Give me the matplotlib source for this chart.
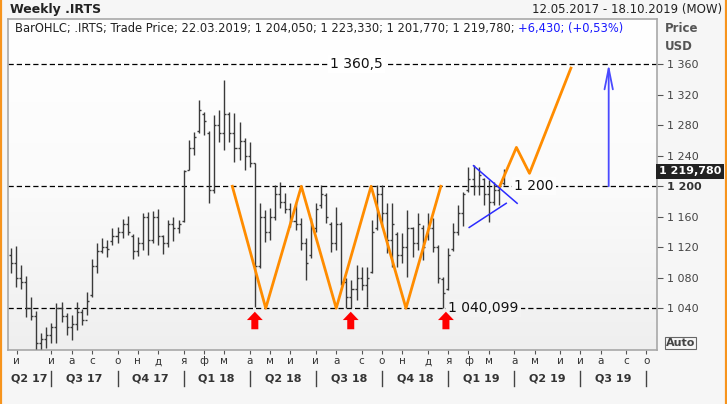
import numpy as np
import pandas as pd
import matplotlib
matplotlib.use("Agg")
import matplotlib.pyplot as plt
from matplotlib.lines import Line2D
from matplotlib.colors import LinearSegmentedColormap
from matplotlib.transforms import blended_transform_factory

START = pd.Timestamp("2017-05-12")   # first weekly bar
END = pd.Timestamp("2019-10-18")     # right edge of chart

bar_open = [1110, 1100, 1080, 1075, 1040, 1030, 995, 1000, 1005, 1015,
            1040, 1030, 1015, 1020, 1035, 1025, 1058, 1095, 1115, 1120,
            1128, 1135, 1140, 1150, 1135, 1115, 1125, 1160, 1130, 1160,
            1135, 1125, 1150, 1145, 1155, 1222, 1250, 1272, 1295, 1270,
            1195, 1280, 1270, 1295, 1270, 1250, 1260, 1240, 1230, 1095,
            1160, 1140, 1160, 1190, 1180, 1170, 1155, 1150, 1125, 1110,
            1145, 1175, 1188, 1150, 1125, 1150, 1075, 1055, 1065, 1080,
            1070, 1088, 1145, 1190, 1165, 1130, 1138, 1110, 1120, 1145,
            1125, 1145, 1135, 1145, 1120, 1078, 1065, 1118, 1140, 1165,
            1195, 1210, 1200, 1210, 1190, 1180, 1195, 1204.05]
bar_high = [1119, 1122, 1097, 1082, 1055, 1037, 1008, 1016, 1021, 1047,
            1048, 1034, 1031, 1048, 1039, 1061, 1105, 1126, 1132, 1130,
            1145, 1147, 1157, 1161, 1137, 1134, 1165, 1166, 1168, 1170,
            1136, 1156, 1160, 1156, 1222, 1261, 1271, 1313, 1298, 1273,
            1294, 1300, 1339, 1298, 1296, 1284, 1263, 1258, 1231, 1178,
            1169, 1172, 1202, 1205, 1191, 1178, 1178, 1158, 1132, 1158,
            1178, 1202, 1191, 1153, 1173, 1153, 1080, 1077, 1097, 1094,
            1094, 1156, 1202, 1202, 1178, 1178, 1140, 1139, 1169, 1147,
            1165, 1149, 1165, 1158, 1123, 1081, 1119, 1152, 1176, 1193,
            1225, 1228, 1225, 1211, 1208, 1205, 1202, 1223.33]
bar_low = [1086, 1068, 1065, 1029, 1025, 986, 986, 988, 995, 995,
           1022, 1005, 998, 1012, 1018, 1031, 1055, 1086, 1113, 1107,
           1123, 1126, 1132, 1136, 1105, 1109, 1117, 1110, 1126, 1123,
           1111, 1120, 1128, 1139, 1153, 1222, 1241, 1270, 1267, 1178,
           1191, 1258, 1248, 1258, 1232, 1235, 1222, 1225, 1042, 1093,
           1127, 1130, 1156, 1172, 1165, 1146, 1143, 1117, 1077, 1106,
           1140, 1172, 1152, 1114, 1117, 1071, 1040, 1040, 1051, 1064,
           1042, 1086, 1143, 1147, 1113, 1094, 1094, 1099, 1081, 1107,
           1117, 1103, 1130, 1114, 1073, 1040.099, 1064, 1115, 1136, 1148,
           1192, 1189, 1189, 1176, 1153, 1176, 1176, 1201.77]
bar_close = [1100, 1080, 1075, 1040, 1030, 995, 1000, 1005, 1015, 1040,
             1030, 1015, 1020, 1035, 1025, 1050, 1095, 1115, 1120, 1118,
             1135, 1140, 1150, 1140, 1115, 1125, 1160, 1130, 1160, 1135,
             1125, 1150, 1145, 1150, 1220, 1250, 1265, 1300, 1285, 1195,
             1280, 1270, 1295, 1270, 1250, 1260, 1240, 1230, 1095, 1160,
             1140, 1160, 1190, 1180, 1170, 1155, 1150, 1125, 1100, 1145,
             1170, 1190, 1160, 1125, 1150, 1075, 1055, 1065, 1080, 1070,
             1080, 1140, 1190, 1165, 1130, 1150, 1110, 1120, 1145, 1125,
             1150, 1120, 1145, 1120, 1080, 1060, 1110, 1140, 1165, 1190,
             1210, 1200, 1215, 1190, 1180, 1195, 1200, 1219.78]

levels = [1360.5, 1200.0, 1040.099]
level_labels = ["1 360,5", "1 200", "1 040,099"]
level_label_dates = ["2018-08-31", "2019-04-05", "2019-01-04"]

zigzag_dates = ["2018-03-13", "2018-04-28", "2018-06-16", "2018-08-03",
                "2018-09-20", "2018-11-07", "2018-12-25"]
zigzag_prices = [1200, 1040.099, 1200, 1040.099, 1200, 1040.099, 1200]
proj_dates = ["2019-03-16", "2019-04-08", "2019-04-26", "2019-06-22"]
proj_prices = [1200, 1251, 1217, 1355]
tri_upper_dates = ["2019-02-08", "2019-04-09"]
tri_upper_prices = [1227, 1177.7]
tri_lower_dates = ["2019-02-02", "2019-03-25"]
tri_lower_prices = [1146, 1177.7]
target_date = "2019-08-13"
target_prices = [1200, 1360.5]
low_marker_dates = ["2018-04-13", "2018-08-23", "2019-01-01"]

month_letters = {1: "я", 2: "ф", 3: "м", 4: "а", 5: "м", 6: "и",
                 7: "и", 8: "а", 9: "с", 10: "о", 11: "н", 12: "д"}
y_ticks = [1040, 1080, 1120, 1160, 1200, 1240, 1280, 1320, 1360]


def wk(d):
    return (pd.Timestamp(d) - START).days / 7.0


def first_friday(year, month):
    d = pd.Timestamp(year=year, month=month, day=1)
    return d + pd.Timedelta(days=(4 - d.weekday()) % 7)


def fmt(v):
    return f"{v:,.0f}".replace(",", " ")


W, H = 727, 404
fig = plt.figure(figsize=(W / 100, H / 100), dpi=100, facecolor="#f6f6f6")
ax = fig.add_axes([8 / W, 54 / H, 649 / W, 331 / H])
x0, x1 = -0.53, wk(END) + 0.07
y0, y1 = 985.3, 1419.4
ax.set_xlim(x0, x1); ax.set_ylim(y0, y1)

# background gradient
cm = LinearSegmentedColormap.from_list("bg", ["#efefef", "#fbfbfb", "#ffffff"])
ax.imshow(np.linspace(0, 1, 256).reshape(-1, 1), cmap=cm, origin="lower",
          extent=(x0, x1, y0, y1), aspect="auto", zorder=0)

# OHLC bars
xs = np.arange(len(bar_close))
bc = "#3a3a3a"
ax.vlines(xs, bar_low, bar_high, color=bc, lw=1.0, zorder=3)
ax.hlines(bar_open, xs - 0.4, xs, color=bc, lw=1.0, zorder=3)
ax.hlines(bar_close, xs, xs + 0.4, color=bc, lw=1.0, zorder=3)

# horizontal levels
bgc = ["#ffffff", "#fcfcfc", "#f3f3f3"]
for lv, lab, d, c, ha in zip(levels, level_labels, level_label_dates, bgc,
                             ["center", "left", "left"]):
    ax.axhline(lv, color="black", lw=0.9, dashes=(4.2, 2.4), zorder=2)
    ax.text(wk(d), lv, lab, ha=ha, va="center", fontsize=10, color="#111",
            zorder=6, bbox=dict(fc=c, ec="none", pad=1.5))

# orange pattern + projection
orange = "#ff8c00"
ax.plot([wk(d) for d in zigzag_dates], zigzag_prices, color=orange, lw=2, zorder=4)
ax.plot([wk(d) for d in proj_dates], proj_prices, color=orange, lw=2, zorder=4)

# blue triangle
ax.plot([wk(d) for d in tri_upper_dates], tri_upper_prices, color="#2b2bff", lw=1.1, zorder=5)
ax.plot([wk(d) for d in tri_lower_dates], tri_lower_prices, color="#2b2bff", lw=1.1, zorder=5)

# target arrow
tx = wk(target_date)
ax.annotate("", xy=(tx, target_prices[1]), xytext=(tx, target_prices[0]),
            arrowprops=dict(arrowstyle="->,head_length=1.5,head_width=0.3",
                            color="#4a4aff", lw=1.3, shrinkA=0, shrinkB=0),
            zorder=5)

# red arrows under the lows
for d in low_marker_dates:
    ax.annotate("", xy=(wk(d), 1035.5), xytext=(wk(d), 1012.5),
                arrowprops=dict(arrowstyle="simple,head_length=0.5,head_width=0.95,tail_width=0.42",
                                fc="#ff0000", ec="none", mutation_scale=12,
                                shrinkA=0, shrinkB=0), zorder=6)

# axes styling
for s in ax.spines.values():
    s.set_color("#a8a8a8"); s.set_linewidth(1.2)
ax.yaxis.tick_right()
ax.set_yticks(y_ticks)
ax.set_yticklabels([fmt(v) for v in y_ticks])
ax.tick_params(axis="y", length=4, width=0.8, color="#555", labelsize=8,
               labelcolor="#444", pad=3)
for t in ax.get_yticklabels():
    if t.get_text() == "1 200":
        t.set_fontweight("bold"); t.set_color("#333")

months = pd.date_range("2017-06-01", "2019-10-01", freq="MS")
mpos = [wk(first_friday(m.year, m.month)) for m in months]
mpos[0] = 1.2   # first label sits closer to the left edge in the source
ax.set_xticks(mpos)
ax.set_xticklabels([month_letters[m.month] for m in months])
ax.tick_params(axis="x", length=3, width=0.8, color="#555", labelsize=7.5,
               labelcolor="#333", pad=1.5)

# quarter labels and separators
trans = blended_transform_factory(ax.transData, ax.transAxes)
qstarts = [m for m in months if m.month in (1, 4, 7, 10)]
qpos = [wk(first_friday(m.year, m.month)) for m in qstarts]
edges = [x0] + qpos
for i, q in enumerate(qstarts):
    prev = q - pd.DateOffset(months=3)
    lab = f"Q{(prev.month - 1) // 3 + 1} {prev.year % 100}"
    ax.text((edges[i] + edges[i + 1]) / 2, -0.085, lab, transform=trans,
            ha="center", va="center", fontsize=8, fontweight="bold", color="#333")
    ax.add_line(Line2D([qpos[i], qpos[i]], [-0.062, -0.108], transform=trans,
                       color="#444", lw=1.0, clip_on=False))

# last price badge
tr2 = blended_transform_factory(ax.transAxes, ax.transData)
ax.text(1.003, bar_close[-1], "1 219,780", transform=tr2, ha="left", va="center",
        fontsize=8, fontweight="bold", color="white", zorder=7,
        bbox=dict(fc="#222222", ec="none", pad=1.8))

# header texts
t1 = ax.text(0.011, 0.97, "BarOHLC; .IRTS; Trade Price; 22.03.2019; 1 204,050; "
             "1 223,330; 1 201,770; 1 219,780; ", transform=ax.transAxes,
             ha="left", va="center", fontsize=8.3, color="#222", zorder=7)
ax.annotate("+6,430; (+0,53%)", xy=(1, 0), xycoords=t1, va="bottom",
            fontsize=8.3, color="#1a1aff", zorder=7)
fig.text(10 / W, 1 - 10 / H, "Weekly .IRTS", ha="left", va="center",
         fontsize=9, fontweight="bold", color="#222")
fig.text(722 / W, 1 - 10 / H, "12.05.2017 - 18.10.2019 (MOW)", ha="right",
         va="center", fontsize=8.5, color="#222")
fig.text(665 / W, 1 - 29 / H, "Price", ha="left", va="center", fontsize=8.5,
         fontweight="bold", color="#555")
fig.text(665 / W, 1 - 46 / H, "USD", ha="left", va="center", fontsize=8.5,
         fontweight="bold", color="#555")
fig.text(666 / W, 1 - 343 / H, "Auto", ha="left", va="center", fontsize=8,
         fontweight="bold", color="#444",
         bbox=dict(fc="none", ec="#666", lw=0.8, pad=0.8))

# orange window border
for xe in (1 / W, 1 - 1 / W):
    fig.add_artist(Line2D([xe, xe], [0, 1], transform=fig.transFigure,
                          color="#f7941d", lw=1.6))

fig.savefig("out.png", dpi=100, facecolor=fig.get_facecolor())
